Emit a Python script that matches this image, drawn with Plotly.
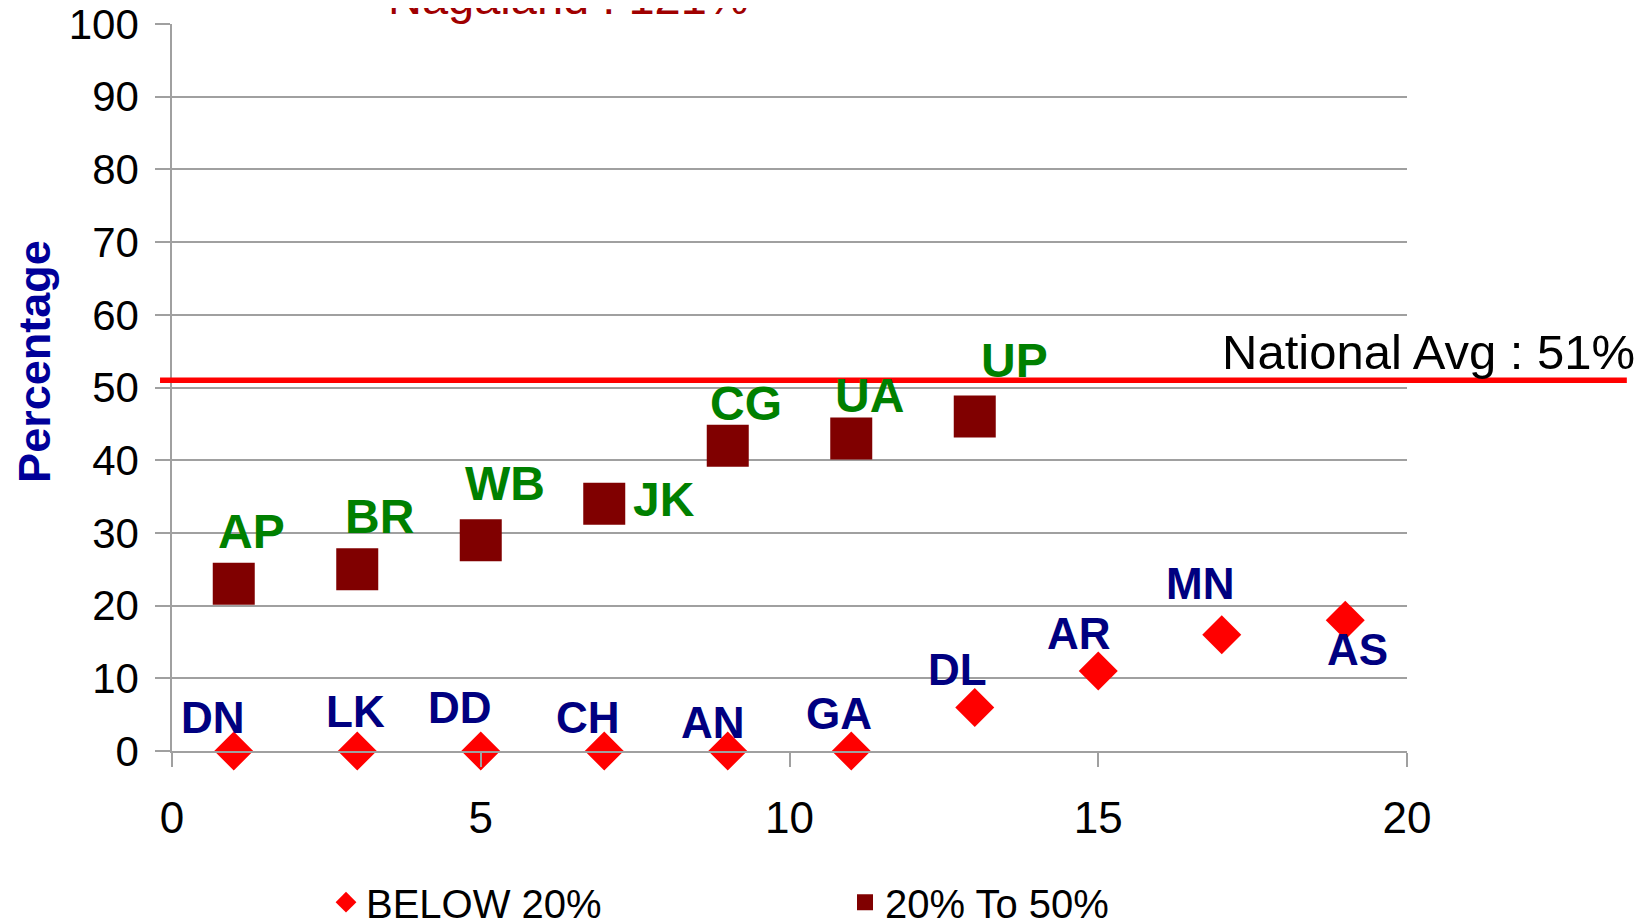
import plotly.graph_objects as go

# ---- data ----
below_x = [1, 3, 5, 7, 9, 11, 13, 15, 17, 19]
below_y = [0, 0, 0, 0, 0, 0, 6, 11, 16, 18]
below_labels = ["DN", "LK", "DD", "CH", "AN", "GA", "DL", "AR", "MN", "AS"]

mid_x = [1, 3, 5, 7, 9, 11, 13]
mid_y = [23, 25, 29, 34, 42, 43, 46]
mid_labels = ["AP", "BR", "WB", "JK", "CG", "UA", "UP"]

national_avg = 51
national_label = "National Avg : 51%"
outlier_label = "Nagaland : 121%"

x_ticks = [0, 5, 10, 15, 20]
y_ticks = [0, 10, 20, 30, 40, 50, 60, 70, 80, 90, 100]

# label offsets in pixels (style only)
below_off = [(-21, -34), (-2, -40), (-21, -44), (-16, -34), (-15, -29), (-12, -38),
             (-17, -38), (-19, -38), (-22, -51), (12, 29)]
mid_off = [(18, -52), (22, -53), (24, -57), (60, -4), (18, -42), (18, -43), (40, -56)]

FONT = "Liberation Sans, Arial, sans-serif"
Y_MIN, Y_MAX = 0, 100

fig = go.Figure()
fig.add_trace(go.Scatter(
    x=below_x, y=below_y, mode="markers", name="BELOW 20%",
    marker=dict(symbol="diamond", size=30, color="#FF0000", line=dict(width=0)),
    cliponaxis=False,
))
fig.add_trace(go.Scatter(
    x=mid_x, y=mid_y, mode="markers", name="20% To 50%",
    marker=dict(symbol="square", size=42, color="#800000", line=dict(width=0)),
    cliponaxis=False,
))

annotations = []
for x, y, t, (dx, dy) in zip(below_x, below_y, below_labels, below_off):
    annotations.append(dict(x=x, y=y, xref="x", yref="y", text=t, showarrow=False,
                            xshift=dx, yshift=-dy, xanchor="center", yanchor="middle",
                            font=dict(family=FONT, size=44, color="#000080", weight="bold")))
for x, y, t, (dx, dy) in zip(mid_x, mid_y, mid_labels, mid_off):
    annotations.append(dict(x=x, y=y, xref="x", yref="y", text=t, showarrow=False,
                            xshift=dx, yshift=-dy, xanchor="center", yanchor="middle",
                            font=dict(family=FONT, size=48, color="#008000", weight="bold")))

avg_paper = (national_avg - Y_MIN) / (Y_MAX - Y_MIN)
annotations.append(dict(x=1.186, y=avg_paper, xref="paper", yref="paper", text=national_label,
                        showarrow=False, xanchor="right", yanchor="middle", yshift=28,
                        font=dict(family=FONT, size=49, color="#000000")))
annotations.append(dict(x=0.3207, y=1.036, xref="paper", yref="paper", text=outlier_label,
                        showarrow=False, xanchor="center", yanchor="middle",
                        font=dict(family=FONT, size=47, color="#A00000")))
annotations.append(dict(x=-0.111, y=0.5365, xref="paper", yref="paper", text="Percentage",
                        showarrow=False, textangle=-90, xanchor="center", yanchor="middle",
                        font=dict(family=FONT, size=45, color="#000099", weight="bold")))

fig.add_shape(type="line", xref="paper", yref="paper", x0=-0.0097, x1=1.178,
              y0=avg_paper, y1=avg_paper, line=dict(color="#FF0000", width=5.5), layer="above")

# page body has an 8px margin: compensate so the plot area lands where the reference has it
fig.update_layout(
    width=1644, height=923,
    margin=dict(l=164, r=245, t=16, b=180, autoexpand=False),
    paper_bgcolor="white", plot_bgcolor="white",
    font=dict(family=FONT, color="#000000"),
    showlegend=True,
    legend=dict(orientation="h", x=0.1247, xanchor="left", y=-0.208, yanchor="middle",
                font=dict(family=FONT, size=40, color="#000000"),
                entrywidth=474, entrywidthmode="pixels", bgcolor="rgba(0,0,0,0)"),
    annotations=annotations,
)
fig.update_xaxes(range=[0, 20], tickvals=x_ticks, ticktext=[str(v) for v in x_ticks],
                 showgrid=False, zeroline=False, showline=True, linecolor="#a0a0a0", linewidth=1.5,
                 ticks="outside", ticklen=14, tickcolor="#a0a0a0", tickwidth=1.5,
                 tickfont=dict(family=FONT, size=44, color="#000000"), ticklabelstandoff=13,
                 ticklabeloverflow="allow")
fig.update_yaxes(range=[Y_MIN, Y_MAX], tickvals=y_ticks, ticktext=[str(v) for v in y_ticks],
                 showgrid=True, gridcolor="#a0a0a0", gridwidth=1.5, zeroline=False,
                 showline=True, linecolor="#a0a0a0", linewidth=1.5,
                 ticks="outside", ticklen=15, tickcolor="#a0a0a0", tickwidth=1.5,
                 tickfont=dict(family=FONT, size=42, color="#000000"), ticklabelstandoff=8,
                 ticklabeloverflow="allow")

fig.write_html("out.html")
